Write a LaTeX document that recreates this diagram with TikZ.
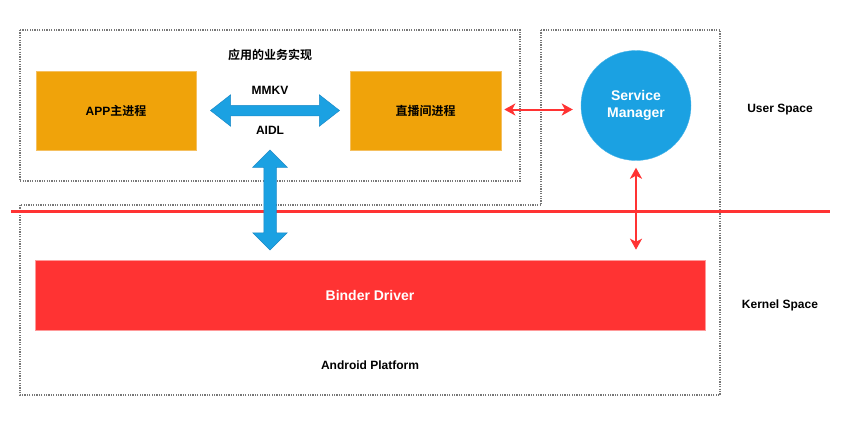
\documentclass[tikz,border=0pt]{standalone}
\usepackage{fontspec}
\setmainfont{Liberation Sans}
\newfontfamily\cjk{Noto Sans CJK SC}[BoldFont={Noto Sans CJK SC Bold}]
\usetikzlibrary{shapes.geometric,shapes.arrows,arrows.meta,calc}
\definecolor{procorange}{HTML}{F0A30A}
\definecolor{procborder}{HTML}{F5C060}
\definecolor{smblue}{HTML}{1BA1E2}
\definecolor{arrowblue}{HTML}{1BA1E2}
\definecolor{arrowblueedge}{HTML}{1C8AC8}
\definecolor{kred}{HTML}{FF3333}
\definecolor{kredborder}{HTML}{FF9999}
\definecolor{dotgray}{HTML}{777777}
\tikzset{
  dotframe/.style={draw=dotgray, line width=1.2pt, dash pattern=on 1.2pt off 1.2pt},
  procbox/.style={rectangle, fill=procorange, draw=procborder, line width=0.6pt, minimum width=160pt, minimum height=79pt, font=\fontsize{12}{14}\selectfont\bfseries},
  fatarrow/.style={double arrow, fill=arrowblue, draw=arrowblueedge, line width=0.5pt, inner xsep=0pt},
  redarrow/.style={draw=kred, line width=2pt, {Stealth[length=11pt,width=12pt,inset=3pt]}-{Stealth[length=11pt,width=12pt,inset=3pt]}},
  lbl/.style={font=\fontsize{12}{14}\selectfont\bfseries, inner sep=0pt}
}
\begin{document}
\begin{tikzpicture}[x=1pt,y=-1pt]
\useasboundingbox (0,0) rectangle (841,421);
% frames
\draw[dotframe] (20,30) rectangle (520,181);
\draw[dotframe] (541,30) -- (720,30) -- (720,395) -- (20,395) -- (20,205) -- (541,205) -- cycle;
% kernel/user boundary
\draw[kred, line width=2.5pt] (11,211.5) -- (830,211.5);
% nodes
\node[lbl] (biztitle) at (270,55) {\cjk 应用的业务实现};
\node[procbox] (app) at (116,110.5) {APP{\cjk 主进程}};
\node[procbox, minimum width=151pt] (live) at (425.5,110.5) {\cjk 直播间进程};
\node[circle, fill=smblue, draw=smblue!80!white, minimum size=110pt, inner sep=0pt, align=center, text=white, font=\fontsize{14}{17}\selectfont\bfseries] (sm) at (636,105.5) {Service\\Manager};
\node[rectangle, fill=kred, draw=kredborder, line width=0.6pt, minimum width=670pt, minimum height=70pt, text=white, font=\fontsize{14}{16}\selectfont\bfseries] (binder) at (370,295) {Binder Driver};
\node[lbl] (mmkv) at (270,90) {MMKV};
\node[lbl] (aidl) at (270,130) {AIDL};
\node[lbl] (platform) at (370,365) {Android Platform};
\node[lbl] (user) at (780,110) {User Space};
\node[lbl] (kernel) at (780,305) {Kernel Space};
% fat blue arrows
\node[fatarrow, minimum height=129pt, inner ysep=5pt, double arrow head extend=10.5pt, double arrow tip angle=76] (ipc) at ($(app.east)!0.5!(live.west)+(2,0)$) {};
\node[fatarrow, rotate=90, minimum height=100pt, inner ysep=6pt, double arrow head extend=11pt, double arrow tip angle=90] (tokernel) at (270,200) {};
% red connectors
\draw[redarrow, shorten <=3pt, shorten >=8pt] ($(live.east)+(0,-1)$) -- ($(live.east -| sm.west)+(0,-1)$);
\draw[redarrow, shorten <=7pt, shorten >=10pt] (sm.south) -- (sm.south |- binder.north);
\end{tikzpicture}
\end{document}
